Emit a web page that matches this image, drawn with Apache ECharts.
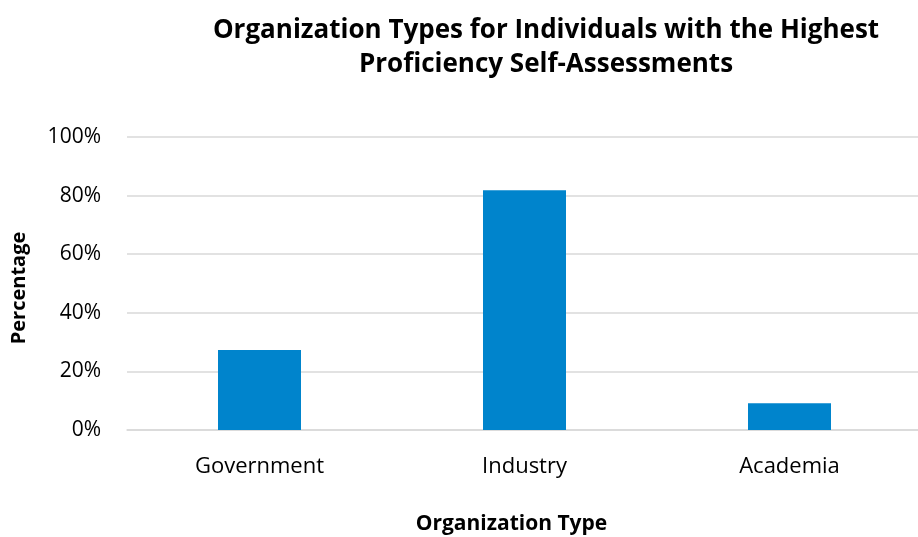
<!DOCTYPE html>
<html>
<head>
<meta charset="utf-8">
<script src="https://cdn.jsdelivr.net/npm/echarts@6/dist/echarts.min.js"></script>
<style>
  html, body { margin: 0; padding: 0; background: #fff; }
  #chart { width: 918px; height: 537px; }
</style>
</head>
<body>
<div id="chart"></div>
<script>
// 数据
const categories = ['Government', 'Industry', 'Academia'];
const percentages = [27.3, 81.8, 9.1];
const yTicks = [0, 20, 40, 60, 80, 100];

const font = '"Open Sans", "Noto Sans", sans-serif';
const myChart = echarts.init(document.getElementById('chart'));

const option = {
  animation: false,
  title: {
    text: 'Organization Types for Individuals with the Highest\nProficiency Self-Assessments',
    left: 541,
    top: 9,
    textAlign: 'center',
    textStyle: {
      color: '#000',
      fontFamily: font,
      fontSize: 26,
      fontWeight: 'bold',
      lineHeight: 34
    }
  },
  grid: {
    left: 127,
    right: -4,
    top: 137,
    bottom: 107,
    outerBoundsMode: 'none',
    containLabel: false
  },
  xAxis: {
    type: 'category',
    data: categories,
    name: 'Organization Type',
    nameLocation: 'middle',
    nameGap: 84,
    nameTextStyle: {
      color: '#000',
      fontFamily: font,
      fontSize: 21,
      fontWeight: 'bold',
      padding: [0, 26, 0, 0]
    },
    axisLine: { lineStyle: { color: '#d9d9d9', width: 1.5 } },
    axisTick: { show: false },
    axisLabel: {
      color: '#000',
      fontFamily: font,
      fontSize: 22,
      margin: 26
    }
  },
  yAxis: {
    type: 'value',
    min: yTicks[0],
    max: yTicks[yTicks.length - 1],
    interval: 20,
    name: 'Percentage',
    nameLocation: 'middle',
    nameGap: 98,
    nameTextStyle: {
      color: '#000',
      fontFamily: font,
      fontSize: 20,
      fontWeight: 'bold',
      padding: [0, 9, 0, 0]
    },
    axisLine: { show: false },
    axisTick: { show: false },
    axisLabel: {
      color: '#000',
      fontFamily: font,
      fontSize: 21,
      margin: 26,
      formatter: (v) => v + '%'
    },
    splitLine: { lineStyle: { color: '#d9d9d9', width: 1.5 } }
  },
  series: [
    {
      type: 'bar',
      data: percentages,
      barWidth: 83,
      itemStyle: { color: '#0084cc' }
    }
  ]
};

myChart.setOption(option);
</script>
</body>
</html>
